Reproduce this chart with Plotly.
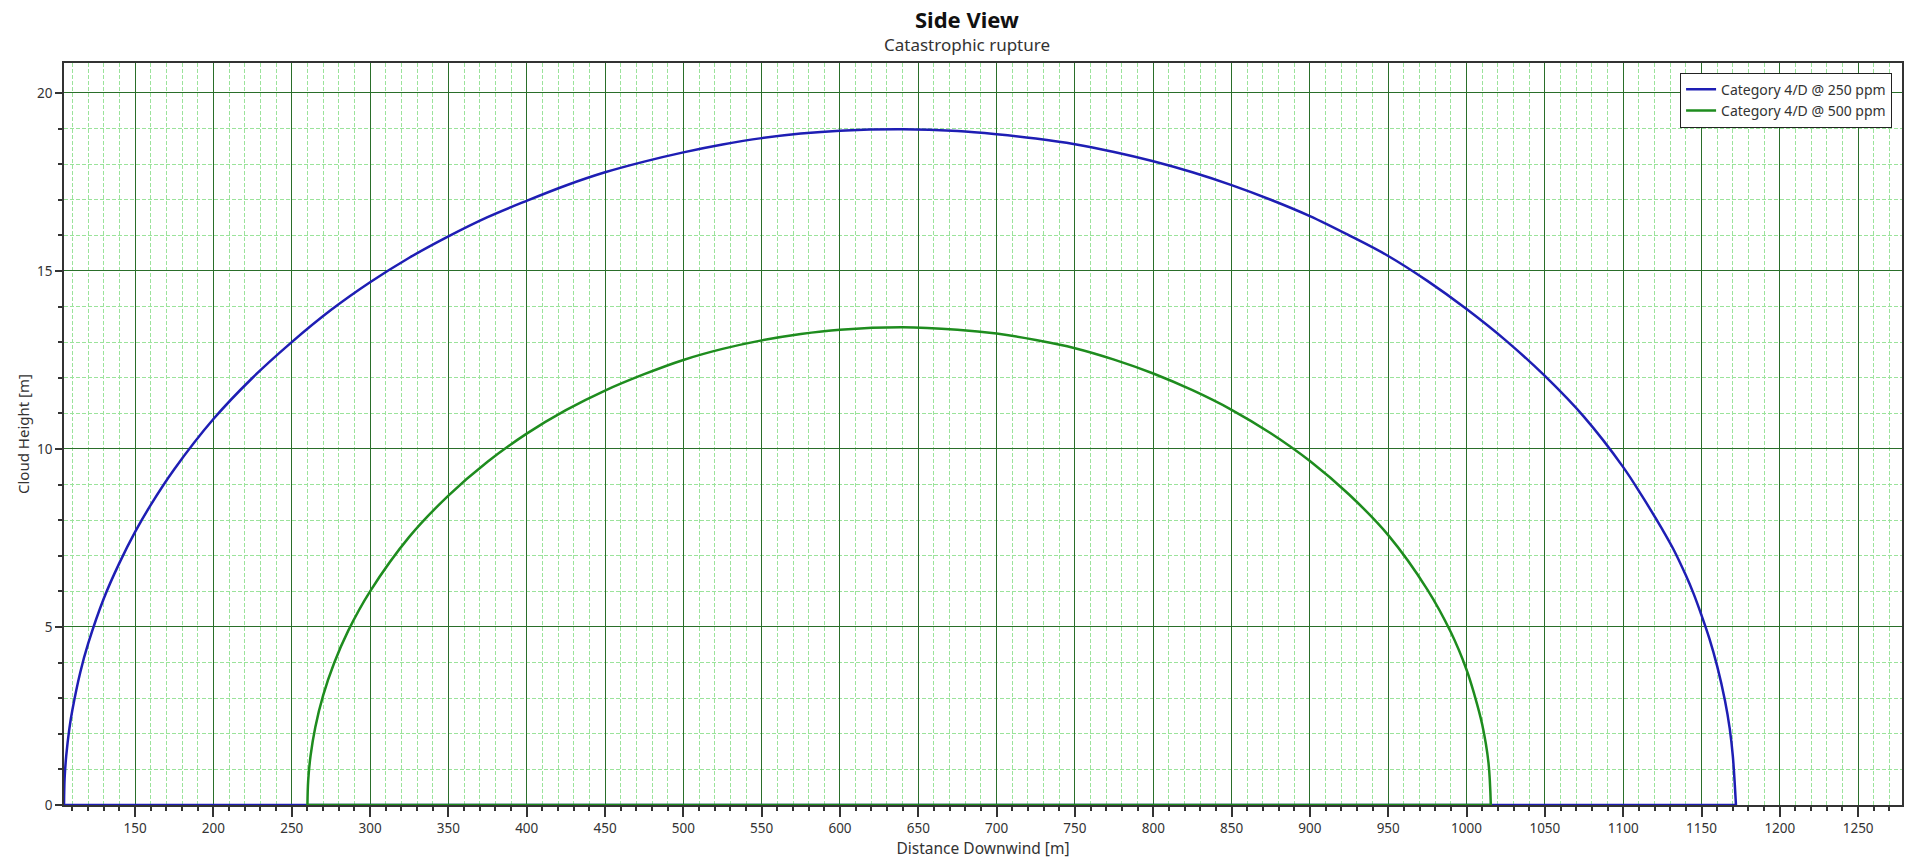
import plotly.graph_objects as go

# ---- data ----
blue_x = [104.6, 105, 106, 108, 110, 115, 120, 130, 140, 150, 160, 175, 200, 225, 250, 275,
          300, 325, 350, 375, 400, 425, 450, 475, 500, 525, 550, 575, 600, 640, 675, 700,
          725, 750, 775, 800, 825, 850, 875, 900, 925, 950, 975, 1000, 1025, 1050, 1075,
          1100, 1112, 1125, 1132, 1140, 1145, 1150, 1155, 1160, 1165, 1168, 1170, 1172]
blue_y = [0, 0.75, 1.37, 2.14, 2.68, 3.73, 4.53, 5.8, 6.8, 7.67, 8.43, 9.43, 10.84, 12.0,
          13.0, 13.9, 14.68, 15.37, 15.97, 16.51, 16.97, 17.4, 17.77, 18.07, 18.33, 18.55,
          18.73, 18.86, 18.94, 18.98, 18.93, 18.84, 18.72, 18.56, 18.34, 18.08, 17.77, 17.41,
          17.0, 16.54, 16.0, 15.42, 14.72, 13.93, 13.05, 12.05, 10.9, 9.49, 8.68, 7.74, 7.19,
          6.45, 5.93, 5.33, 4.68, 3.9, 2.93, 2.15, 1.37, 0]

green_x = [260, 260.5, 262, 265, 270, 277, 286, 300, 325, 350, 375, 400, 425, 450, 475, 500,
           525, 550, 575, 600, 640, 675, 700, 725, 750, 775, 800, 825, 850, 875, 900, 925,
           950, 975, 990, 1000, 1005, 1010, 1014, 1015.5]
green_y = [0, 0.69, 1.38, 2.18, 3.07, 3.98, 4.89, 6.0, 7.53, 8.69, 9.64, 10.43, 11.09, 11.64,
           12.1, 12.5, 12.81, 13.05, 13.23, 13.35, 13.42, 13.35, 13.24, 13.06, 12.83, 12.51,
           12.12, 11.65, 11.1, 10.44, 9.66, 8.72, 7.58, 6.05, 4.85, 3.8, 3.1, 2.26, 1.19, 0]

series_names = ["Category 4/D @ 250 ppm", "Category 4/D @ 500 ppm"]
x_ticks = list(range(150, 1251, 50))
y_ticks = [0, 5, 10, 15, 20]
x_range = [104.6, 1278]
y_range = [0, 20.84]

BLUE = "#1e1eb4"
GREEN = "#1e8c1e"
FONT = "Noto Sans"

fig = go.Figure()
for xs, ys, name, col in [(blue_x, blue_y, series_names[0], BLUE),
                          (green_x, green_y, series_names[1], GREEN)]:
    # arc, then the closing baseline along y = 0
    fx = list(xs) + [None, xs[-1], xs[0]]
    fy = list(ys) + [None, 0, 0]
    fig.add_trace(go.Scatter(x=fx, y=fy, mode="lines", name=name,
                             line=dict(color=col, width=2.5, shape="spline", smoothing=1.0),
                             connectgaps=False, hoverinfo="skip"))

axis_common = dict(
    showline=True, linecolor="#333333", linewidth=1.5, mirror=True,
    ticks="outside", tickcolor="#333333",
    gridcolor="#2a6e2a", gridwidth=1,
    zeroline=False,
    tickfont=dict(family=FONT, size=13.5, color="#333333"),
)

fig.update_xaxes(
    range=x_range, tickmode="array", tickvals=x_ticks, ticklen=10, tickwidth=1.5,
    minor=dict(dtick=10, tick0=0, ticks="outside", ticklen=4, tickcolor="#333333",
               showgrid=True, gridcolor="#9be39b", griddash="4px,2px", gridwidth=1),
    title=dict(text="Distance Downwind [m]", font=dict(family=FONT, size=15.5, color="#333333"),
               standoff=2),
    **axis_common)
fig.update_yaxes(
    range=y_range, tickmode="array", tickvals=y_ticks, ticklen=7, tickwidth=1.5,
    minor=dict(dtick=1, tick0=0, ticks="outside", ticklen=4, tickcolor="#333333",
               showgrid=True, gridcolor="#9be39b", griddash="4px,2px", gridwidth=1),
    title=dict(text="Cloud Height [m]", font=dict(family=FONT, size=15, color="#333333"),
               standoff=4),
    **axis_common)

fig.update_layout(
    width=1912, height=864,
    margin=dict(l=64, r=8, t=63, b=59),
    paper_bgcolor="white", plot_bgcolor="white",
    showlegend=True,
    legend=dict(x=0.9946, y=0.987, xanchor="right", yanchor="top",
                bgcolor="white", bordercolor="#222222", borderwidth=1,
                font=dict(family=FONT, size=14, color="#333333"),
                tracegroupgap=0, itemwidth=30),
)
# Title and subtitle as pixel-positioned annotations
fig.add_annotation(text="<b>Side View</b>", xref="paper", yref="paper", x=0.4913,
                   y=1 + (63.3 - 19) / (805 - 63.3), xanchor="center", yanchor="middle",
                   showarrow=False, font=dict(family=FONT, size=22, color="#111111"))
fig.add_annotation(text="Catastrophic rupture", xref="paper", yref="paper", x=0.4913,
                   y=1 + (63.3 - 45) / (805 - 63.3), xanchor="center", yanchor="middle",
                   showarrow=False, font=dict(family=FONT, size=17, color="#333333"))

fig.write_html("out.html")
